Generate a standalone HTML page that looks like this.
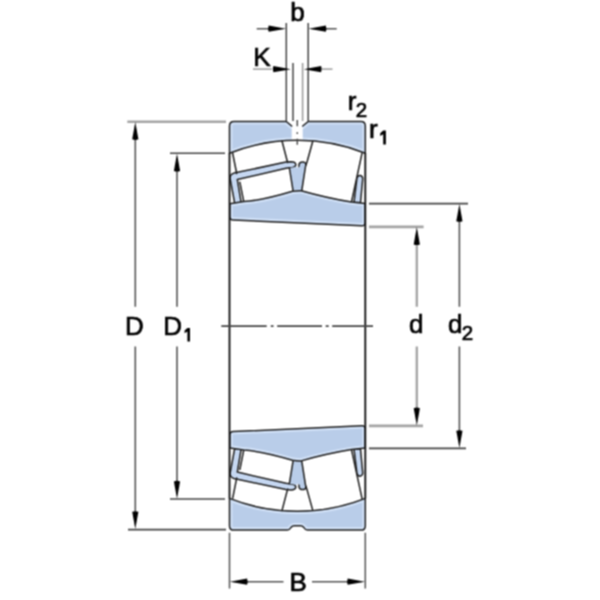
<!DOCTYPE html>
<html><head><meta charset="utf-8">
<style>
html,body{margin:0;padding:0;background:#fff;width:600px;height:600px;overflow:hidden}
svg{display:block}
text{font-family:"Liberation Sans",sans-serif;fill:#000;stroke:#000;stroke-width:0.7}
.o{stroke:#1e1e1e;stroke-width:1.5;fill:none;stroke-linejoin:round;stroke-linecap:round}
.fo{fill:#b9cde9;stroke:#1e1e1e;stroke-width:1.5;stroke-linejoin:round}
.f{fill:#b9cde9}
.dim{stroke:#555;stroke-width:1.6;fill:none}
.ah{fill:#000}
.one{fill:#000}
</style></head>
<body>
<svg width="600" height="600" viewBox="0 0 600 600">
<defs>
<filter id="bl" color-interpolation-filters="sRGB" x="0" y="0" width="600" height="600" filterUnits="userSpaceOnUse"><feConvolveMatrix order="3" kernelMatrix="1 2 1 2 4 2 1 2 1" divisor="16" edgeMode="duplicate"/></filter>
<path id="ar" d="M0,0.3 L-3.1,17.6 Q0,18.8 3.1,17.6 Z"/>
<clipPath id="cUO"><path d="M229.5,153.2 L229.5,126 Q229.5,121.5 234,121.5 L286.3,121.5 L291.7,126 L302.7,126 L308.2,121.5 L361,121.5 Q365.3,121.5 365.3,126 L365.3,153.2 A185.5 185.5 0 0 0 229.5,153.2 Z"/></clipPath>
<clipPath id="cLO"><path d="M229.5,498.4 L229.5,525.9 Q229.5,530.1 234,530.1 L287.3,530.1 Q289.5,530.1 291,527.5 Q292.3,525.8 294.5,525.8 L300.3,525.8 Q302.5,525.8 303.8,527.5 Q305.3,530.1 307.5,530.1 L361,530.1 Q365.3,530.1 365.3,525.9 L365.3,498.4 A185.5 185.5 0 0 1 229.5,498.4 Z"/></clipPath>
<clipPath id="cIR"><path d="M229.8,203.7 L243.75,201.5 Q262,200.5 292.5,191.3 Q297,190.5 301.25,190.7 Q327,198 351.5,202 L365.2,203.5 L365.2,222.5 Q365.2,226 361.7,225.8 L233.3,220 Q229.8,219.9 229.8,216.4 Z"/></clipPath>
<g id="half">
  <path class="fo" style="fill:#c6d8f2" d="M234,173.1 Q230,174.3 230.1,178.3 L234.6,202.8 L241.2,202.8 L237.3,179.5 L286,168.3 Q289.5,167.6 292.5,167.4 Q296,166.8 295.8,164.5 Q295.5,161.7 291,161.7 L286,162.1 Z"/>
  <path class="o" d="M232.7,153.5 L236.7,173.5 M282,141 L287.6,162.5 M239.9,182.3 L243.8,201.8"/>
  <path class="f" d="M299,168.8 L299,164.5 Q299.5,162 302.5,162 Q306,162 305.8,165 L304.9,168.8 Z"/>
  <path class="o" d="M299,168 L299,164.5 Q299.5,162 302.5,162 Q306,162 305.8,165"/>
  <path class="f" d="M289.6,167.9 L294,167.2 L296.3,166.4 L297.6,168.2 L299,166.8 L305.5,166.5 L301.8,190.3 L293,190.3 Z"/>
  <path class="o" d="M289.4,168 L293,190.3 M312.7,141.5 L307.3,161 L305.5,166.5 L301.8,190.3 M362,153.3 L351.5,202"/>
  <path class="fo" style="fill:#c6d8f2" d="M357,178 Q358,175 360.5,175.5 Q363,176.5 362.7,179 L360.5,202.5 L354,202.5 Z"/>
  <path class="f" d="M229.8,203.7 L243.75,201.5 Q262,200.5 292.5,191.3 Q297,190.5 301.25,190.7 Q327,198 351.5,202 L365.2,203.5 L365.2,222.5 Q365.2,226 361.7,225.8 L233.3,220 Q229.8,219.9 229.8,216.4 Z"/>
  <path d="M229.8,203.7 L243.75,201.5 Q262,200.5 292.5,191.3 Q297,190.5 301.25,190.7 Q327,198 351.5,202 L365.2,203.5 L365.2,222.5 Q365.2,226 361.7,225.8 L233.3,220 Q229.8,219.9 229.8,216.4 Z" fill="none" stroke="#d0e0f6" stroke-width="6" clip-path="url(#cIR)"/>
  <path class="o" d="M229.8,203.7 L243.75,201.5 Q262,200.5 292.5,191.3 Q297,190.5 301.25,190.7 Q327,198 351.5,202 L365.2,203.5 L365.2,222.5 Q365.2,226 361.7,225.8 L233.3,220 Q229.8,219.9 229.8,216.4 Z"/>
</g>
</defs>
<g filter="url(#bl)">
<rect width="600" height="600" fill="#fff"/>

<!-- upper outer ring -->
<path class="f" d="M229.5,153.2 L229.5,126 Q229.5,121.5 234,121.5 L286.3,121.5 L291.7,126 L302.7,126 L308.2,121.5 L361,121.5 Q365.3,121.5 365.3,126 L365.3,153.2 A185.5 185.5 0 0 0 229.5,153.2 Z"/>
<path d="M229.5,153.2 L229.5,126 Q229.5,121.5 234,121.5 L286.3,121.5 L291.7,126 L302.7,126 L308.2,121.5 L361,121.5 Q365.3,121.5 365.3,126 L365.3,153.2 A185.5 185.5 0 0 0 229.5,153.2 Z" fill="none" stroke="#d0e0f6" stroke-width="6" clip-path="url(#cUO)"/>
<rect x="291.7" y="124" width="11" height="16" fill="#fff"/>
<path class="o" d="M229.5,153.2 L229.5,126 Q229.5,121.5 234,121.5 L286.3,121.5 L291.7,126 M302.7,126 L308.2,121.5 L361,121.5 Q365.3,121.5 365.3,126 L365.3,153.2 M229.5,153.2 A185.5 185.5 0 0 1 365.3,153.2"/>
<path stroke="#444" stroke-width="1.4" d="M297.3,120 V126.3 M297.3,132.2 V134 M297.3,138.7 V144.7"/>

<!-- lower outer ring -->
<path class="f" d="M229.5,498.4 L229.5,525.9 Q229.5,530.1 234,530.1 L287.3,530.1 Q289.5,530.1 291,527.5 Q292.3,525.8 294.5,525.8 L300.3,525.8 Q302.5,525.8 303.8,527.5 Q305.3,530.1 307.5,530.1 L361,530.1 Q365.3,530.1 365.3,525.9 L365.3,498.4 A185.5 185.5 0 0 1 229.5,498.4 Z"/>
<path d="M229.5,498.4 L229.5,525.9 Q229.5,530.1 234,530.1 L287.3,530.1 Q289.5,530.1 291,527.5 Q292.3,525.8 294.5,525.8 L300.3,525.8 Q302.5,525.8 303.8,527.5 Q305.3,530.1 307.5,530.1 L361,530.1 Q365.3,530.1 365.3,525.9 L365.3,498.4 A185.5 185.5 0 0 1 229.5,498.4 Z" fill="none" stroke="#d0e0f6" stroke-width="6" clip-path="url(#cLO)"/>
<path class="o" d="M229.5,498.4 L229.5,525.9 Q229.5,530.1 234,530.1 L287.3,530.1 Q289.5,530.1 291,527.5 Q292.3,525.8 294.5,525.8 L300.3,525.8 Q302.5,525.8 303.8,527.5 Q305.3,530.1 307.5,530.1 L361,530.1 Q365.3,530.1 365.3,525.9 L365.3,498.4 M229.5,498.4 A185.5 185.5 0 0 0 365.3,498.4"/>

<use href="#half"/>
<use href="#half" transform="matrix(1 0 0 -1 0 651.6)"/>

<!-- bore lines -->
<path stroke="#111" stroke-width="1.85" d="M229.5,153 V498.6 M365.3,153 V498.6"/>
<path stroke="#555" stroke-width="1.5" d="M229.5,532.8 V588.5 M365.3,532.8 V588.5"/>

<!-- centre line -->
<path stroke="#444" stroke-width="1.8" d="M221.3,326.2 H266.7 M270.8,326.2 H273.5 M277.2,326.2 H322 M325.7,326.2 H328.7 M332.2,326.2 H373"/>

<!-- dimension D -->
<path stroke="#a4a4a4" stroke-width="2.5" d="M127.3,121.8 H226"/>
<path stroke="#444" stroke-width="1.6" d="M128,529.6 H226"/>
<path class="dim" d="M135.3,130 V306.7 M135.3,346.5 V520"/>
<use href="#ar" class="ah" transform="translate(135.3,121.7) rotate(0)"/>
<use href="#ar" class="ah" transform="translate(135.3,529.4) rotate(180)"/>
<text x="125" y="335.2" font-size="26">D</text>

<!-- D1 -->
<path stroke="#444" stroke-width="1.6" d="M170,153.3 H225 M170,499 H225"/>
<path class="dim" d="M177,160 V306.7 M177,346.5 V490"/>
<use href="#ar" class="ah" transform="translate(177,153.3) rotate(0)"/>
<use href="#ar" class="ah" transform="translate(177,499) rotate(180)"/>
<text x="163.3" y="335.2" font-size="26">D</text>
<path class="one" d="M187.4,328 H190 V341.5 H187.4 V331.6 L184.6,333.2 V330.6 Z"/>

<!-- d -->
<path stroke="#a4a4a4" stroke-width="2.8" d="M369,226.8 H423.6 M369,425.8 H423"/>
<path stroke="#a6a6a6" stroke-width="2.4" d="M416.8,235 V306.7 M416.8,346.5 V416"/>
<use href="#ar" class="ah" transform="translate(416.8,226.8) rotate(0)"/>
<use href="#ar" class="ah" transform="translate(416.8,425.8) rotate(180)"/>
<text x="409" y="333" font-size="26">d</text>

<!-- d2 -->
<path stroke="#444" stroke-width="1.6" d="M369,203.6 H468 M369,448.4 H466"/>
<path class="dim" d="M459.4,212 V306.7 M459.4,346.5 V440"/>
<use href="#ar" class="ah" transform="translate(459.4,203.6) rotate(0)"/>
<use href="#ar" class="ah" transform="translate(459.4,448.4) rotate(180)"/>
<text x="448" y="333" font-size="26">d</text>
<text x="461.8" y="340" font-size="20.5">2</text>

<!-- B -->
<path class="dim" d="M238,581.7 H283.5 M312,581.7 H357"/>
<use href="#ar" class="ah" transform="translate(229.5,581.7) rotate(-90)"/>
<use href="#ar" class="ah" transform="translate(365.3,581.7) rotate(90)"/>
<text x="289.6" y="590.8" font-size="26">B</text>

<!-- b -->
<path stroke="#444" stroke-width="1.5" d="M286.3,23 V121 M308.2,23 V121"/>
<path class="dim" d="M256.7,28.7 H278 M317,28.7 H336.7"/>
<use href="#ar" class="ah" transform="translate(286.3,28.7) rotate(90)"/>
<use href="#ar" class="ah" transform="translate(308.2,28.7) rotate(-90)"/>
<text x="290.2" y="21" font-size="26">b</text>

<!-- K -->
<path stroke="#444" stroke-width="1.5" d="M293,63 V121"/>
<path stroke="#999" stroke-width="1.5" d="M302.6,63 V121"/>
<path stroke="#aaa" stroke-width="1.8" d="M253,69.2 H272 M322,69.2 H332.5"/>
<use href="#ar" class="ah" transform="translate(291,69.2) rotate(90)"/>
<use href="#ar" class="ah" transform="translate(303.5,69.2) rotate(-90)"/>
<text x="253.2" y="66.2" font-size="26">K</text>

<!-- r2 r1 -->
<text x="347.7" y="110" font-size="26">r</text>
<text x="355.8" y="116.6" font-size="20.5">2</text>
<text x="369" y="138.3" font-size="26">r</text>
<path class="one" d="M383.2,130.6 H385.9 V144.6 H383.2 V134.3 L380.2,136 V133.3 Z"/>
</g>
</svg>
</body></html>
